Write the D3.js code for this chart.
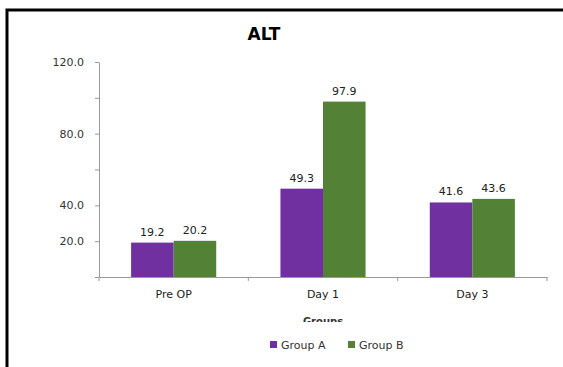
<!DOCTYPE html>
<html>
<head>
<meta charset="utf-8">
<script src="https://cdn.jsdelivr.net/npm/d3@7"></script>
<style>
  body { margin: 0; background: #fff; overflow: hidden; }
  svg { display: block; }
  text { font-family: "DejaVu Sans", Verdana, sans-serif; }
</style>
</head>
<body>
<div id="chart"></div>
<script>
// data
let categories = ["Pre OP", "Day 1", "Day 3"];
let seriesNames = ["Group A", "Group B"];
let groupA = [19.2, 49.3, 41.6];
let groupB = [20.2, 97.9, 43.6];
let tickValues = [0, 20, 40, 60, 80, 100, 120];
let tickLabels = ["", "20.0", "40.0", "", "80.0", "", "120.0"];
let colors = ["#7030a0", "#538135"];

let width = 563;
let height = 367;

let svg = d3.select("#chart")
    .append("svg")
    .attr("width", width)
    .attr("height", height);

// frame
svg.append("rect")
    .attr("x", 7).attr("y", 10)
    .attr("width", 600).attr("height", 400)
    .attr("fill", "none")
    .attr("stroke", "#000")
    .attr("stroke-width", 3);

// title
svg.append("text")
    .attr("x", 264).attr("y", 40)
    .attr("text-anchor", "middle")
    .attr("font-size", "17px")
    .attr("font-weight", "bold")
    .attr("font-family", "Liberation Sans, Arial, sans-serif")
    .attr("fill", "#000")
    .text("ALT");

let plotLeft = 99, plotRight = 547, plotTop = 62, plotBottom = 277;

let x0 = d3.scaleBand()
    .domain(categories)
    .range([plotLeft, plotRight])
    .paddingInner(0.43)
    .paddingOuter(0.215);

let x1 = d3.scaleBand()
    .domain(seriesNames)
    .range([0, x0.bandwidth()]);

let y = d3.scaleLinear()
    .domain([0, 120])
    .range([plotBottom, plotTop]);

let rows = categories.map(function (c, i) {
    return { cat: c, values: [groupA[i], groupB[i]] };
});

// bars
let groups = svg.selectAll("g.grp")
    .data(rows)
    .enter()
    .append("g")
    .attr("class", "grp")
    .attr("transform", function (d) { return "translate(" + x0(d.cat) + ",0)"; });

groups.selectAll("rect")
    .data(function (d) { return d.values.map(function (v, j) { return { s: seriesNames[j], v: v, j: j }; }); })
    .enter()
    .append("rect")
    .attr("x", function (d) { return x1(d.s); })
    .attr("y", function (d) { return y(d.v); })
    .attr("width", x1.bandwidth())
    .attr("height", function (d) { return plotBottom - y(d.v); })
    .attr("fill", function (d) { return colors[d.j]; });

// value labels
groups.selectAll("text")
    .data(function (d) { return d.values.map(function (v, j) { return { s: seriesNames[j], v: v }; }); })
    .enter()
    .append("text")
    .attr("x", function (d) { return x1(d.s) + x1.bandwidth() / 2; })
    .attr("y", function (d) { return y(d.v) - 7; })
    .attr("text-anchor", "middle")
    .attr("font-size", "11px")
    .attr("fill", "#222")
    .text(function (d) { return d.v.toFixed(1); });

// y axis
let yAxis = svg.append("g")
    .attr("transform", "translate(" + plotLeft + ",0)")
    .call(d3.axisLeft(y)
        .tickValues(tickValues)
        .tickSize(4)
        .tickSizeOuter(0)
        .tickFormat(function (d, i) { return tickLabels[i]; }));
yAxis.select(".domain").attr("stroke", "#999");
yAxis.selectAll(".tick line").attr("stroke", "#999");
yAxis.selectAll(".tick text")
    .attr("x", -15)
    .attr("font-size", "11px")
    .attr("font-family", "DejaVu Sans, sans-serif")
    .attr("fill", "#333");

// x axis
let xAxis = svg.append("g")
    .attr("transform", "translate(0," + plotBottom + ")")
    .call(d3.axisBottom(x0).tickSize(0).tickSizeOuter(0));
xAxis.select(".domain").attr("stroke", "#999");
xAxis.selectAll(".tick text")
    .attr("dy", "1.6em")
    .attr("font-size", "11px")
    .attr("font-family", "DejaVu Sans, sans-serif")
    .attr("fill", "#222");

// category boundary ticks
let step = x0.step();
let bounds = [plotLeft, plotLeft + step, plotLeft + 2 * step, plotRight];
svg.selectAll("line.bnd")
    .data(bounds)
    .enter()
    .append("line")
    .attr("class", "bnd")
    .attr("x1", function (d) { return d; })
    .attr("x2", function (d) { return d; })
    .attr("y1", plotBottom)
    .attr("y2", plotBottom + 4)
    .attr("stroke", "#999");

// axis title, clipped as in the picture
svg.append("clipPath").attr("id", "clipT")
    .append("rect").attr("x", 0).attr("y", 300).attr("width", width).attr("height", 22);
svg.append("text")
    .attr("x", 323).attr("y", 325)
    .attr("text-anchor", "middle")
    .attr("font-size", "10px")
    .attr("font-weight", "bold")
    .attr("fill", "#333")
    .attr("clip-path", "url(#clipT)")
    .text("Groups");

// legend
let legendX = [270, 348];
let legend = svg.selectAll("g.leg")
    .data(seriesNames)
    .enter()
    .append("g")
    .attr("class", "leg")
    .attr("transform", function (d, i) { return "translate(" + legendX[i] + ",341)"; });
legend.append("rect")
    .attr("width", 7).attr("height", 7)
    .attr("fill", function (d, i) { return colors[i]; });
legend.append("text")
    .attr("x", 11).attr("y", 7.5)
    .attr("font-size", "11px")
    .attr("fill", "#333")
    .text(function (d) { return d; });
</script>
</body>
</html>
